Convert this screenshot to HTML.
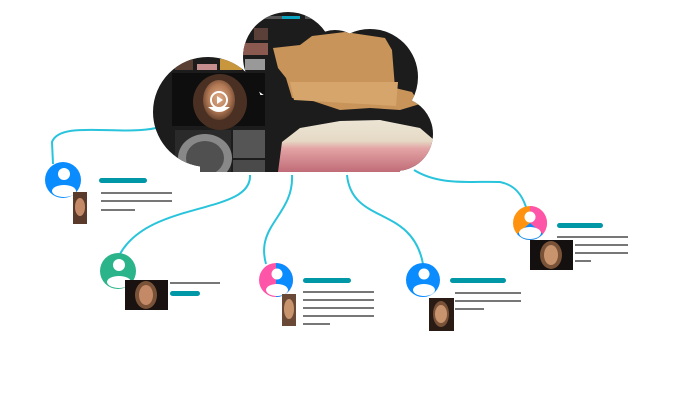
<!DOCTYPE html>
<html><head><meta charset="utf-8"><style>html,body{margin:0;padding:0;background:#fff}svg{display:block}</style></head><body>
<svg width="680" height="400" viewBox="0 0 680 400" xmlns="http://www.w3.org/2000/svg">
<defs>
<clipPath id="cl">
<circle cx="208" cy="112" r="55"/>
<circle cx="288" cy="57" r="45"/>
<circle cx="370" cy="77" r="48"/>
<circle cx="335" cy="62" r="32"/>
<circle cx="396" cy="134" r="37"/>
<rect x="200" y="95" width="200" height="77"/>
<rect x="280" y="45" width="100" height="60"/>
</clipPath>
<clipPath id="c1"><circle cx="63" cy="180" r="18"/></clipPath>
<clipPath id="c2"><circle cx="118" cy="271" r="18"/></clipPath>
<clipPath id="c3"><circle cx="276" cy="280" r="17"/></clipPath>
<clipPath id="c4"><circle cx="423" cy="280" r="17"/></clipPath>
<clipPath id="c5"><circle cx="530" cy="223" r="17"/></clipPath>
<radialGradient id="face" cx="50%" cy="45%" r="55%"><stop offset="0" stop-color="#e0ab88"/><stop offset="0.6" stop-color="#b47a56"/><stop offset="1" stop-color="#6a4530"/></radialGradient>
<linearGradient id="gum" x1="0" y1="0" x2="0" y2="1"><stop offset="0" stop-color="#ece4d4"/><stop offset="0.4" stop-color="#e6dac6"/><stop offset="0.55" stop-color="#e3a3a4"/><stop offset="1" stop-color="#c06c78"/></linearGradient>
</defs>
<g fill="none" stroke="#29c4dc" stroke-width="2">
<path d="M156,128 C120,136 60,120 52,142 L53,164"/>
<path d="M250,175 C252,215 150,200 120,254"/>
<path d="M292,175 C294,215 255,225 266,264"/>
<path d="M347,175 C352,225 412,205 423,264"/>
<path d="M414,170 C440,186 470,181 500,182 C515,185 522,195 526,207"/>
</g>
<g clip-path="url(#cl)">
<rect x="150" y="10" width="290" height="165" fill="#1c1c1c"/>
<rect x="262" y="16" width="20" height="3" fill="#555"/>
<rect x="282" y="16" width="18" height="3" fill="#0aa4c0"/>
<rect x="305" y="16" width="22" height="3" fill="#555"/>
<rect x="254" y="28" width="14" height="12" fill="#5a4038"/>
<rect x="243" y="43" width="25" height="12" fill="#8a5a50"/>
<rect x="196" y="49" width="20" height="7" fill="#6a4a40"/>
<rect x="220" y="49" width="20" height="7" fill="#7a5550"/>
<rect x="175" y="58" width="18" height="12" fill="#5a4034"/>
<rect x="197" y="64" width="20" height="6" fill="#c68e8e"/>
<rect x="220" y="59" width="22" height="11" fill="#c8963c"/>
<rect x="245" y="59" width="20" height="11" fill="#999"/>
<rect x="172" y="73" width="93" height="53" fill="#0e0e0e"/>
<ellipse cx="220" cy="102" rx="27" ry="28" fill="#4a3022"/>
<ellipse cx="219" cy="100" rx="16" ry="20" fill="url(#face)"/>
<path d="M208,107 Q219,117 230,107 Z" fill="#fff"/>
<circle cx="219" cy="100" r="8" fill="none" stroke="#fff" stroke-width="2"/>
<path d="M217,96 L223,100 L217,104 Z" fill="#fff"/>
<rect x="175" y="130" width="56" height="45" fill="#2a2a2a"/>
<ellipse cx="205" cy="158" rx="27" ry="24" fill="#888"/>
<ellipse cx="205" cy="158" rx="19" ry="17" fill="#505050"/>
<rect x="233" y="130" width="32" height="28" fill="#555"/>
<rect x="233" y="160" width="32" height="15" fill="#4a4a4a"/>
<path d="M273,48 L300,45 L312,36 L345,32 L385,38 L392,50 L395,88 L412,92 L420,104 L400,110 L370,108 L340,110 L310,100 L292,98 L286,78 L278,68 Z" fill="#c8945a"/>
<path d="M290,82 L398,82 L396,106 L294,100 Z" fill="#d6a56c"/>
<path d="M278,172 L282,142 L300,128 L340,121 L380,120 L420,128 L434,140 L434,172 Z" fill="url(#gum)"/>
</g>
<circle cx="63" cy="180" r="18" fill="#0a8cff"/>
<g fill="#fff" clip-path="url(#c1)"><circle cx="64" cy="174" r="6"/><ellipse cx="64" cy="191" rx="12" ry="6"/></g>
<rect x="73" y="192" width="14" height="32" fill="#5a3a2a"/><ellipse cx="80" cy="207" rx="5" ry="9" fill="#c48a68"/>
<rect x="99" y="178" width="48" height="5" rx="2.5" fill="#0097a7"/>
<g fill="#777"><rect x="101" y="192" width="71" height="2"/><rect x="101" y="200" width="71" height="2"/><rect x="101" y="209" width="34" height="2"/></g>
<circle cx="118" cy="271" r="18" fill="#2bb38a"/>
<g fill="#fff" clip-path="url(#c2)"><circle cx="119" cy="265" r="6"/><ellipse cx="119" cy="282" rx="12" ry="6"/></g>
<rect x="125" y="280" width="43" height="30" fill="#1a1210"/><ellipse cx="146" cy="295" rx="11" ry="14" fill="#7a5238"/><ellipse cx="146" cy="295" rx="7" ry="10" fill="#c48a68"/>
<rect x="170" y="282" width="50" height="2" fill="#777"/>
<rect x="170" y="291" width="30" height="5" rx="2.5" fill="#0097a7"/>
<circle cx="276" cy="280" r="17" fill="#ff55a8"/>
<path d="M276,263 A17,17 0 0 1 276,297 Z" fill="#0a8cff"/>
<g fill="#fff" clip-path="url(#c3)"><circle cx="277" cy="274" r="5.5"/><ellipse cx="277" cy="290" rx="11" ry="6"/></g>
<rect x="282" y="294" width="14" height="32" fill="#6a4a36"/><ellipse cx="289" cy="309" rx="5" ry="10" fill="#c8946e"/>
<rect x="303" y="278" width="48" height="5" rx="2.5" fill="#0097a7"/>
<g fill="#777"><rect x="303" y="291" width="71" height="2"/><rect x="303" y="299" width="71" height="2"/><rect x="303" y="307" width="71" height="2"/><rect x="303" y="315" width="71" height="2"/><rect x="303" y="323" width="27" height="2"/></g>
<circle cx="423" cy="280" r="17" fill="#0a8cff"/>
<g fill="#fff" clip-path="url(#c4)"><circle cx="424" cy="274" r="5.5"/><ellipse cx="424" cy="290" rx="11" ry="6"/></g>
<rect x="429" y="298" width="25" height="33" fill="#2a1c14"/><ellipse cx="441" cy="314" rx="8" ry="13" fill="#7a5238"/><ellipse cx="441" cy="314" rx="6" ry="9" fill="#c8946e"/>
<rect x="450" y="278" width="56" height="5" rx="2.5" fill="#0097a7"/>
<g fill="#777"><rect x="455" y="292" width="66" height="2"/><rect x="455" y="300" width="66" height="2"/><rect x="455" y="308" width="29" height="2"/></g>
<circle cx="530" cy="223" r="17" fill="#ff9310"/>
<path d="M530,206 A17,17 0 0 1 543,234 L530,223 Z" fill="#ff55a8"/>
<path d="M543,234 A17,17 0 0 1 517,234 L530,223 Z" fill="#0a8cff"/>
<g fill="#fff" clip-path="url(#c5)"><circle cx="530" cy="217" r="5.5"/><ellipse cx="530" cy="233" rx="11" ry="6"/></g>
<rect x="530" y="240" width="43" height="30" fill="#141010"/><ellipse cx="551" cy="255" rx="11" ry="14" fill="#7a5238"/><ellipse cx="551" cy="255" rx="7" ry="10" fill="#c8946e"/>
<rect x="557" y="223" width="46" height="5" rx="2.5" fill="#0097a7"/>
<g fill="#777"><rect x="557" y="236" width="71" height="2"/><rect x="575" y="244" width="53" height="2"/><rect x="575" y="252" width="53" height="2"/><rect x="575" y="260" width="16" height="2"/></g>
</svg>
</body></html>
